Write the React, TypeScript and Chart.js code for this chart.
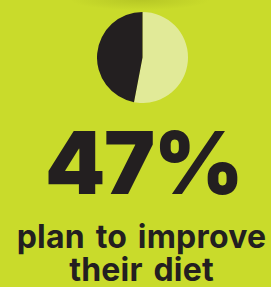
import React, { useEffect, useRef } from "react";
import { Chart, registerables } from "chart.js";

Chart.register(...registerables);

const labels: string[] = ["Do not plan", "Plan to improve their diet"];
const values: number[] = [53, 47];
const colors: string[] = ["#e1ea98", "#231f20"];
const headline = "47%";
const caption1 = "plan to improve";
const caption2 = "their diet";

export default function App() {
  const ref = useRef<HTMLCanvasElement | null>(null);
  useEffect(() => {
    document.body.style.margin = "0";
    if (!ref.current) return;
    const chart = new Chart(ref.current, {
      type: "pie",
      data: {
        labels,
        datasets: [{ data: values, backgroundColor: colors, borderWidth: 0 }],
      },
      options: {
        animation: false,
        responsive: true,
        maintainAspectRatio: false,
        layout: { padding: 0 },
        plugins: { legend: { display: false }, tooltip: { enabled: false } },
      },
    });
    return () => chart.destroy();
  }, []);
  const capStyle: React.CSSProperties = {
    position: "absolute",
    left: 6,
    width: 271,
    textAlign: "center",
    fontSize: 32,
    fontWeight: 700,
    lineHeight: "26px",
    letterSpacing: 0.2,
    wordSpacing: 3,
    whiteSpace: "nowrap",
  };
  return (
    <div
      style={{
        position: "absolute",
        left: 0,
        top: 0,
        width: 271,
        height: 287,
        background:
          "radial-gradient(ellipse 70px 10px at 140px 0px, rgba(160,175,30,0.45), rgba(201,219,43,0)) , #c9db2b",
        overflow: "hidden",
        fontFamily: "Inter, 'DejaVu Sans', sans-serif",
        color: "#231f20",
      }}
    >
      <div style={{ position: "absolute", left: 97, top: 12, width: 91, height: 91 }}>
        <canvas ref={ref} />
      </div>
      <div
        style={{
          position: "absolute",
          left: 8,
          width: 271,
          top: 115,
          textAlign: "center",
          fontSize: 86,
          fontWeight: 900,
          lineHeight: "96px",
          letterSpacing: -1.5,
        }}
      >
        {headline}
      </div>
      <div style={{ ...capStyle, top: 224 }}>{caption1}</div>
      <div style={{ ...capStyle, top: 257 }}>{caption2}</div>
    </div>
  );
}
